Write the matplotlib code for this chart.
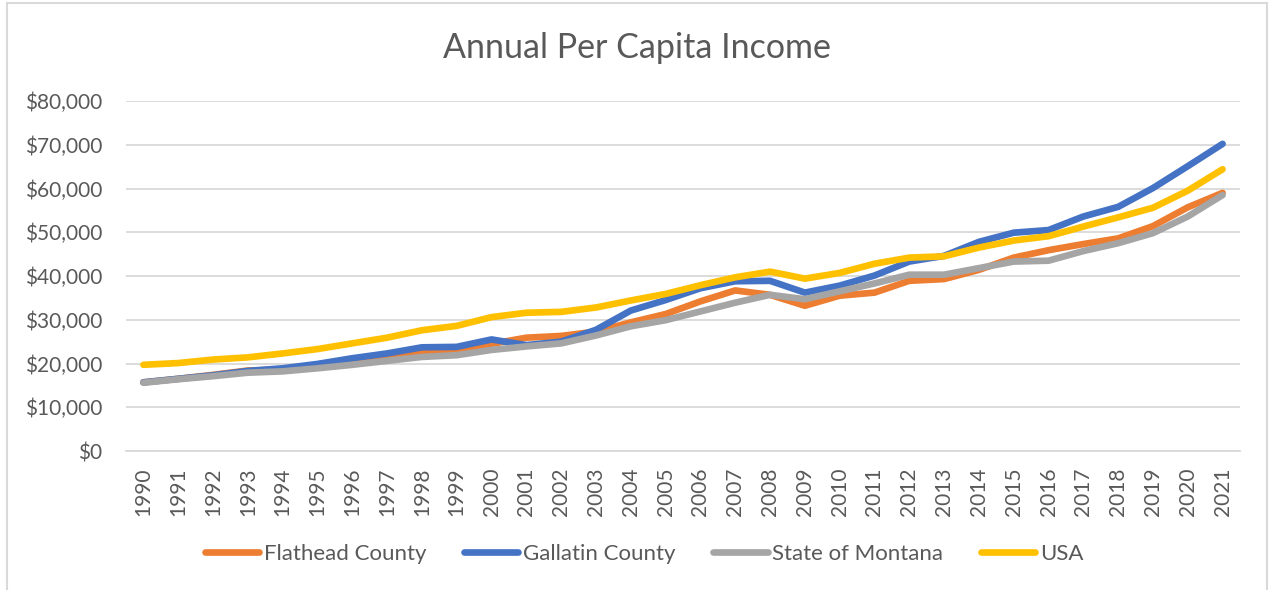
import matplotlib
matplotlib.use('Agg')
import matplotlib.pyplot as plt
from matplotlib.patches import Rectangle
from matplotlib.ticker import FuncFormatter, MultipleLocator

# Per capita personal income, dollars
anos = list(range(1990, 2022))
flathead = [15700, 16500, 17400, 18400, 18600, 19600, 20800, 21600, 22500, 22900,
            24500, 25900, 26300, 27300, 29400, 31300, 34200, 36700, 35700, 33200,
            35500, 36200, 38900, 39300, 41400, 44200, 45900, 47300, 48600, 51400,
            55700, 59000]
gallatin = [15700, 16500, 17300, 18300, 18900, 19900, 21200, 22300, 23700, 23800,
            25500, 24200, 25000, 27700, 32100, 34500, 37200, 38800, 38900, 36200,
            37800, 40100, 43300, 44600, 47800, 49900, 50500, 53600, 55800, 60100,
            65100, 70200]
montana = [15600, 16400, 17100, 17900, 18200, 18900, 19700, 20600, 21500, 21900,
           23100, 23900, 24600, 26400, 28500, 29900, 31900, 33900, 35700, 34700,
           36500, 38300, 40300, 40300, 41800, 43300, 43500, 45700, 47500, 49800,
           53600, 58500]
usa = [19700, 20100, 20900, 21400, 22300, 23300, 24600, 25900, 27600, 28600,
       30600, 31600, 31800, 32800, 34400, 35900, 37900, 39700, 41000, 39400,
       40700, 42800, 44200, 44500, 46500, 48100, 49100, 51300, 53400, 55600,
       59500, 64400]

series = [('Flathead County', flathead, '#ED7D31'),
          ('Gallatin County', gallatin, '#4472C4'),
          ('State of Montana', montana, '#A5A5A5'),
          ('USA', usa, '#FFC000')]

cinza = '#595959'
plt.rcParams['font.family'] = ['Lato', 'DejaVu Sans']

fig = plt.figure(figsize=(12.7, 5.9), dpi=100)
ax = fig.add_axes([126 / 1270, 1 - 451 / 590, (1240 - 126) / 1270, 350 / 590])

x = list(range(len(anos)))
for nome, valores, cor in series:
    ax.plot(x, valores, color=cor, lw=4.8, solid_capstyle='round',
            solid_joinstyle='round', label=nome)

ax.set_xlim(-0.5, len(anos) - 0.5)
ax.set_ylim(0, 80000)
ax.yaxis.set_major_locator(MultipleLocator(10000))
ax.yaxis.set_major_formatter(FuncFormatter(lambda v, p: f'${v:,.0f}'))
ax.set_xticks(x)
ax.set_xticklabels([str(a) for a in anos], rotation=90)
ax.grid(axis='y', color='#D9D9D9', lw=1.3)
ax.set_axisbelow(True)
for lado in ['top', 'right', 'left']:
    ax.spines[lado].set_visible(False)
ax.spines['bottom'].set_color('#D9D9D9')
ax.spines['bottom'].set_linewidth(1.3)
ax.tick_params(axis='y', length=0, pad=17, labelsize=15, labelcolor=cinza)
ax.tick_params(axis='x', length=0, pad=12, labelsize=15, labelcolor=cinza)

fig.text(637 / 1270, 1 - 48 / 590, 'Annual Per Capita Income', ha='center',
         va='center', fontsize=24.5, color=cinza)

fig.legend(loc='center', bbox_to_anchor=(644 / 1270, 1 - 554 / 590), ncol=4,
           frameon=False, fontsize=16, labelcolor=cinza, handlelength=2.45,
           handletextpad=0.2, columnspacing=1.7)

# moldura do gráfico
fig.patches.append(Rectangle((7 / 1270, -0.05), 1260 / 1270, 1.05 - 2.5 / 590,
                             transform=fig.transFigure, fill=False,
                             edgecolor='#D9D9D9', lw=1.5))

fig.savefig('out.png', dpi=100)
